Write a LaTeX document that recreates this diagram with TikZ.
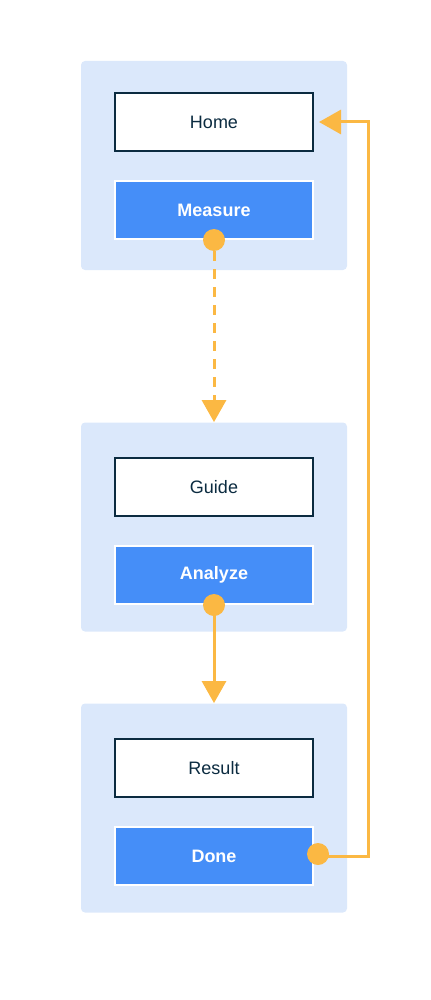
\documentclass[tikz,border=0pt]{standalone}
\usepackage{fontspec}
\setmainfont{Liberation Sans}
\usepackage{tikz}
\usetikzlibrary{arrows.meta,positioning,calc}
\definecolor{panelbg}{HTML}{DBE8FB}
\definecolor{stepblue}{HTML}{458EF8}
\definecolor{flowamber}{HTML}{FBB843}
\definecolor{inkblue}{HTML}{0B2B40}
\tikzset{
    panel/.style={fill=panelbg,rounded corners=2pt,minimum width=133pt,minimum height=104.5pt,inner sep=0pt},
    screen/.style={draw=inkblue,fill=white,line width=1pt,minimum width=99pt,minimum height=29pt,inner sep=0pt,text=inkblue},
    action/.style={draw=white,fill=stepblue,line width=1pt,minimum width=99pt,minimum height=29pt,inner sep=0pt,text=white,font=\fontsize{9}{11}\selectfont\bfseries},
    dot/.style={circle,fill=flowamber,minimum size=11pt,inner sep=0pt,outer sep=0pt},
    flow/.style={-{Triangle[length=11pt,width=12pt]},draw=flowamber,line width=1.5pt},
    flow dashed/.style={flow,dash pattern=on 5pt off 4pt,dash phase=3.5pt},
}
\tikzstyle{every node}=[font=\fontsize{9}{11}\selectfont]

\begin{document}
\begin{tikzpicture}[x=0.5pt,y=-0.5pt]
        \useasboundingbox (0,0) rectangle (430,1000);

        % panels
        \node[panel] (p1) at (214,165.5) {};
        \node[panel] (p2) at (214,527) {};
        \node[panel] (p3) at (214,808) {};

        \node[screen] (home) at (214,122) {Home};
        \node[action] (measure) at (214,210) {Measure};
        \node[screen] (guide) at (214,487) {Guide};
        \node[action] (analyze) at (214,575) {Analyze};
        \node[screen] (result) at (214,768) {Result};
        \node[action] (done) at (214,856) {Done};

        % connectors
        \draw[flow dashed] (measure.south) -- (p2.north);
        \draw[flow] (analyze.south) -- (p3.north);
        \draw[flow,shorten >=2.5pt] (done.east) -- ++(54,0) |- (home.east);

        \node[dot] (d1) at (measure.south) {};
        \node[dot] (d2) at (analyze.south) {};
        \node[dot] (d3) at ($(done.east)+(4,-2)$) {};
    \end{tikzpicture}
\end{document}
